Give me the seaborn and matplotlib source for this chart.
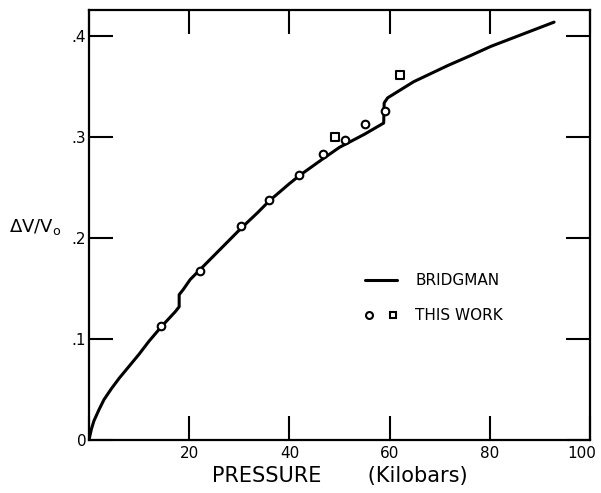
import numpy as np
import pandas as pd
import seaborn as sns
import matplotlib
matplotlib.use("Agg")
import matplotlib.pyplot as plt
from matplotlib.lines import Line2D
from matplotlib.legend_handler import HandlerTuple
from matplotlib.transforms import ScaledTranslation

# Bridgman curve (pressure in kilobars, dV/V0), with the two transitions as steps
bridgman_p = [0, 0.5, 1, 2, 3, 4.5, 6, 8, 10, 12, 14.4, 17.2, 18.0, 18.0, 18.8,
              20.2, 22.2, 26.8, 30.4, 33.6, 36, 40, 42, 46.8, 50, 55, 58.8, 58.9,
              59.6, 64.8, 71.6, 76.2, 80.2, 92.8]
bridgman_v = [0, 0.011, 0.019, 0.030, 0.040, 0.051, 0.061, 0.073, 0.085, 0.098,
              0.112, 0.127, 0.132, 0.144, 0.149, 0.159, 0.169, 0.192, 0.210, 0.225,
              0.237, 0.254, 0.262, 0.279, 0.290, 0.303, 0.314, 0.334, 0.339, 0.355,
              0.371, 0.381, 0.390, 0.414]

# this work: circles and squares
circle_p = [14.4, 22.2, 30.4, 36, 42, 46.6, 51, 55, 59]
circle_v = [0.113, 0.167, 0.212, 0.238, 0.263, 0.283, 0.297, 0.313, 0.326]
square_p = [49, 62]
square_v = [0.300, 0.362]

x_ticks = [0, 20, 40, 60, 80, 100]
x_labels = ["", "20", "40", "60", "80", "100"]
y_ticks = [0, 0.1, 0.2, 0.3, 0.4]
y_labels = ["0", ".1", ".2", ".3", ".4"]

sns.set_theme(style="ticks")
plt.rcParams["font.family"] = ["DejaVu Sans"]
plt.rcParams["text.color"] = "black"
plt.rcParams["axes.labelcolor"] = "black"

fig = plt.figure(figsize=(6.01, 4.93), dpi=100)
ax = fig.add_axes([0.148, 0.1075, 0.834, 0.8722])

line_df = pd.DataFrame({"p": bridgman_p, "v": bridgman_v})
sns.lineplot(data=line_df, x="p", y="v", ax=ax, color="black", linewidth=2.2,
             estimator=None, sort=False)

sns.scatterplot(x=circle_p, y=circle_v, ax=ax, marker="o", s=30,
                facecolor="white", edgecolor="black", linewidth=1.5, zorder=3)
sns.scatterplot(x=square_p, y=square_v, ax=ax, marker="s", s=30,
                facecolor="white", edgecolor="black", linewidth=1.5, zorder=3)

ax.set_xlim(0, 100)
ax.set_ylim(0, 0.426)
ax.set_xticks(x_ticks)
ax.set_xticklabels(x_labels)
ax.set_yticks(y_ticks)
ax.set_yticklabels(y_labels)
ax.tick_params(direction="in", length=17, width=1.5, labelsize=11,
               top=True, right=True, colors="black")
ax.tick_params(axis="y", pad=2)
ax.tick_params(axis="x", pad=4)
for s in ax.spines.values():
    s.set_linewidth(1.6)
    s.set_color("black")

# keep "100" inside the figure, like the reference
last = ax.get_xticklabels()[-1]
last.set_transform(last.get_transform() + ScaledTranslation(-8 / 100, 0, fig.dpi_scale_trans))

ax.set_xlabel("PRESSURE       (Kilobars)", fontsize=15, labelpad=4)
ax.set_ylabel("ΔV/V$_\\mathregular{o}$", fontsize=13, rotation=0, va="center")
ax.yaxis.set_label_coords(-0.107, 0.495)

# legend
h_line = Line2D([], [], color="black", linewidth=2.2)
h_circ = Line2D([], [], marker="o", linestyle="none", markersize=5,
                markerfacecolor="white", markeredgecolor="black", markeredgewidth=1.5)
h_sq = Line2D([], [], marker="s", linestyle="none", markersize=5,
              markerfacecolor="white", markeredgecolor="black", markeredgewidth=1.5)
ax.legend([h_line, (h_circ, h_sq)], ["BRIDGMAN", "THIS WORK"],
          handler_map={tuple: HandlerTuple(ndivide=None, pad=1.0)},
          loc="upper left", bbox_to_anchor=(0.523, 0.42), frameon=False,
          fontsize=11, handlelength=2.1, labelspacing=1.3, handletextpad=1.2)

fig.savefig("out.png", dpi=100)
